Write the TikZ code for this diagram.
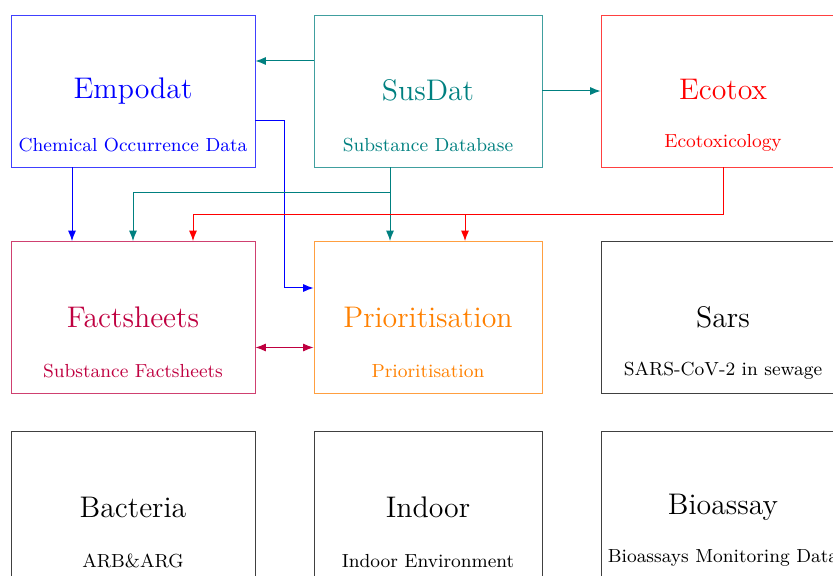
\documentclass[tikz,border=0pt]{standalone}
\usetikzlibrary{arrows.meta}
\begin{document}
\begin{tikzpicture}[x=0.5pt,y=-0.5pt,
  box/.style={draw=#1!75, line width=0.45pt, minimum height=76pt, inner sep=0pt},
  wide/.style={minimum width=122pt},
  narrow/.style={minimum width=114pt},
  title/.style={text=#1, font=\fontsize{14.9}{18}\selectfont, inner sep=0pt, anchor=base},
  sub/.style={text=#1, font=\fontsize{9.45}{11}\selectfont, inner sep=0pt, anchor=base},
  conn/.style={draw=#1, line width=0.5pt, -{Latex[length=5.2pt,width=4pt]}},
  dconn/.style={draw=#1, line width=0.5pt, {Latex[length=5.2pt,width=4pt]}-{Latex[length=5.2pt,width=4pt]}},
]
\clip (0,0) rectangle (833,576);
% boxes
\node[box=blue, wide]   (empodat) at (133,91)  {};
\node[box=teal, narrow] (susdat)  at (428,91)  {};
\node[box=red, wide]    (ecotox)  at (723,91)  {};
\node[box=purple, wide] (fact)    at (133,317.5) {};
\node[box=orange, narrow] (prio)  at (428,317.5) {};
\node[box=black, wide]  (sars)    at (723,317.5) {};
\node[box=black, wide]  (bact)    at (133,507) {};
\node[box=black, narrow] (indoor) at (428,507) {};
\node[box=black, wide]  (bio)     at (723,507) {};
% titles
\node[title=blue]   (empodatT) at (133,99)  {Empodat};
\node[sub=blue]     (empodatS) at (133,152) {Chemical Occurrence Data};
\node[title=teal]   (susdatT)  at (428,101) {SusDat};
\node[sub=teal]     (susdatS)  at (428,152) {Substance Database};
\node[title=red]    (ecotoxT)  at (723,100) {Ecotox};
\node[sub=red]      (ecotoxS)  at (723,148) {Ecotoxicology};
\node[title=purple] (factT)    at (133,328) {Factsheets};
\node[sub=purple]   (factS)    at (133,378) {Substance Factsheets};
\node[title=orange] (prioT)    at (428,328) {Prioritisation};
\node[sub=orange]   (prioS)    at (428,378) {Prioritisation};
\node[title=black]  (sarsT)    at (723,328) {Sars};
\node[sub=black]    (sarsS)    at (723,375) {SARS-CoV-2 in sewage};
\node[title=black]  (bactT)    at (133,517) {Bacteria};
\node[sub=black]    (bactS)    at (133,567) {ARB\&ARG};
\node[title=black]  (indoorT)  at (428,517) {Indoor};
\node[sub=black]    (indoorS)  at (428,567) {Indoor Environment};
\node[title=black]  (bioT)     at (723,514) {Bioassay};
\node[sub=black]    (bioS)     at (723,562) {Bioassays Monitoring Data};
% helper coordinates
\coordinate (blueX) at (284,0);
% connectors
\draw[conn=teal] (susdat.west |- 0,61) -- (empodat.east |- 0,61);
\draw[conn=teal] (susdat.east) -- (ecotox.west);
\draw[conn=blue] (empodat.south -| 72,0) -- (fact.north -| 72,0);
\draw[conn=blue] (empodat.east |- 0,121) -| (blueX |- 0,288) -- (prio.west |- 0,288);
\draw[conn=teal] (susdat.south -| 390,0) |- (133,193) -- (fact.north -| 133,0);
\draw[conn=teal] (susdat.south -| 390,0) -- (prio.north -| 390,0);
\draw[conn=red] (ecotox.south) |- (193,215) -- (fact.north -| 193,0);
\draw[conn=red] (465,215) -- (prio.north -| 465,0);
\draw[dconn=purple] (fact.east |- 0,347.5) -- (prio.west |- 0,347.5);
\end{tikzpicture}
\end{document}
